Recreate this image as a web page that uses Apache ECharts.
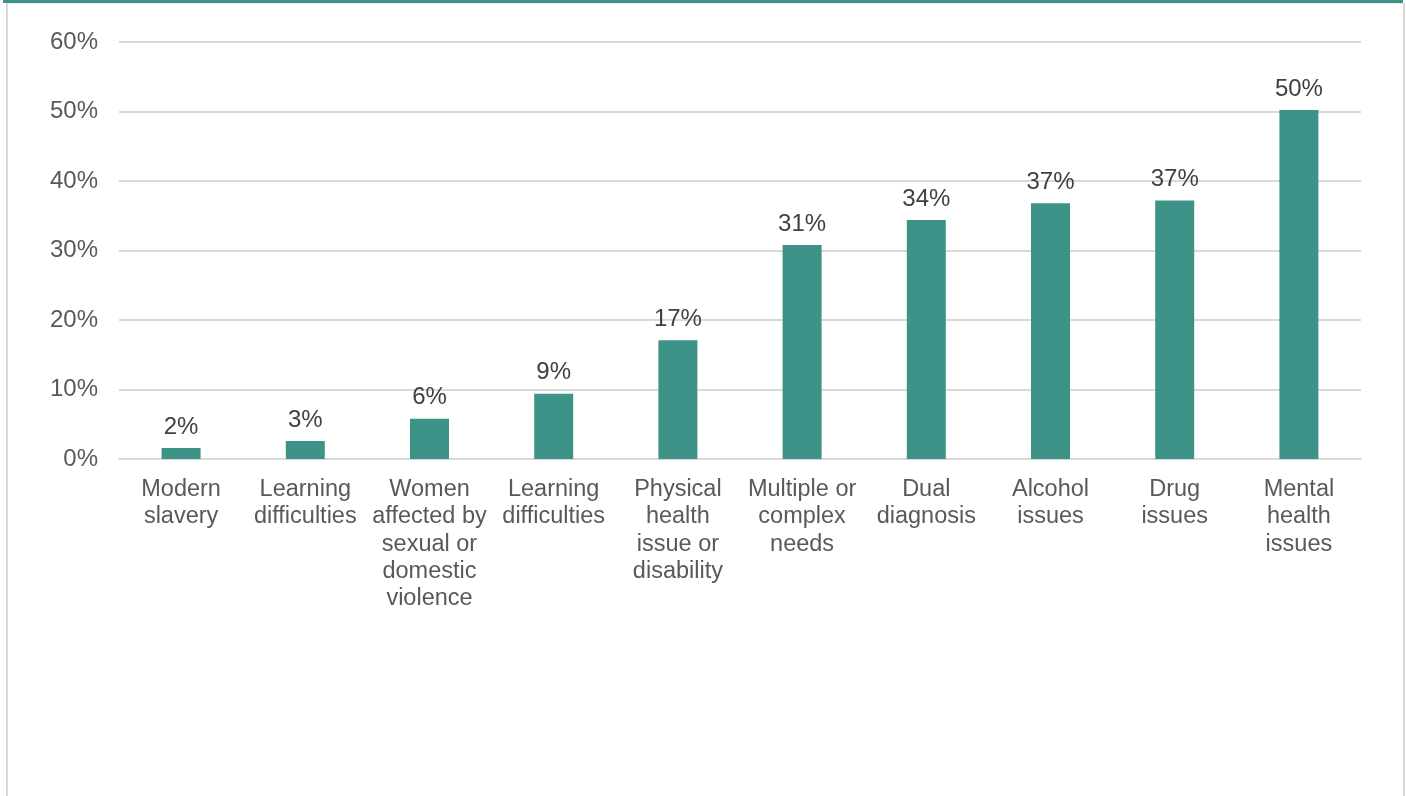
<!DOCTYPE html>
<html>
<head>
<meta charset="utf-8">
<title>Support needs</title>
<script src="https://cdn.jsdelivr.net/npm/echarts@6/dist/echarts.min.js"></script>
<style>
  html, body { margin: 0; padding: 0; background: #ffffff; }
  #topbar { position: absolute; left: 3px; top: 0; width: 1400px; height: 3px; background: #3e9389; }
  #frame { position: absolute; left: 6px; top: 3px; width: 1395px; height: 793px;
           border-left: 2px solid #d9d9d9; border-right: 2px solid #d9d9d9; border-top: 1px solid #e6e6e6; }
  #chart { position: absolute; left: 0; top: 0; width: 1406px; height: 796px; }
</style>
</head>
<body>
<div id="topbar"></div>
<div id="frame"></div>
<div id="chart"></div>
<script>
// Category tick labels (line breaks as shown under each bar)
const categories = [
  'Modern\nslavery',
  'Learning\ndifficulties',
  'Women\naffected by\nsexual or\ndomestic\nviolence',
  'Learning\ndifficulties',
  'Physical\nhealth\nissue or\ndisability',
  'Multiple or\ncomplex\nneeds',
  'Dual\ndiagnosis',
  'Alcohol\nissues',
  'Drug\nissues',
  'Mental\nhealth\nissues'
];

// Share of respondents, percent
const values = [1.6, 2.6, 5.8, 9.4, 17.1, 30.8, 34.4, 36.8, 37.2, 50.2];

// Value axis ticks
const yMin = 0;
const yMax = 60;
const yStep = 10;

const chart = echarts.init(document.getElementById('chart'), null, { renderer: 'canvas' });

const font = '"Liberation Sans", Arial, sans-serif';

chart.setOption({
  animation: false,
  backgroundColor: 'transparent',
  grid: { left: 119, right: 45, top: 42, bottom: 337 },
  xAxis: {
    type: 'category',
    data: categories,
    axisLine: { show: true, lineStyle: { color: '#d9d9d9', width: 2 } },
    axisTick: { show: false },
    axisLabel: {
      interval: 0,
      color: '#595959',
      fontFamily: font,
      fontSize: 23.5,
      lineHeight: 27.3,
      margin: 17
    }
  },
  yAxis: {
    type: 'value',
    min: yMin,
    max: yMax,
    interval: yStep,
    axisLine: { show: false },
    axisTick: { show: false },
    splitLine: { lineStyle: { color: '#d9d9d9', width: 2 } },
    axisLabel: {
      formatter: '{value}%',
      color: '#595959',
      fontFamily: font,
      fontSize: 24,
      margin: 21,
      padding: [3, 0, 0, 0]
    }
  },
  series: [{
    type: 'bar',
    data: values,
    barWidth: 39,
    itemStyle: { color: '#3e9389' },
    label: {
      show: true,
      position: 'top',
      distance: 9,
      color: '#404040',
      fontFamily: font,
      fontSize: 24,
      formatter: p => Math.round(p.value) + '%'
    }
  }]
});
</script>
</body>
</html>
